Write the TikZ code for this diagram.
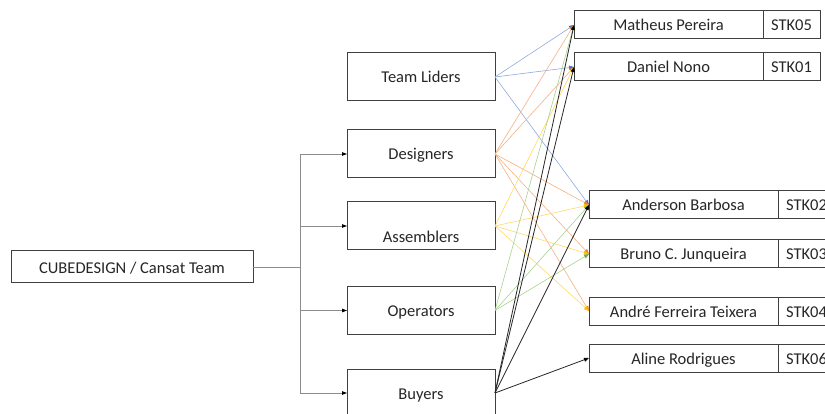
\documentclass[tikz,border=0pt]{standalone}
\usepackage{fontspec}
\setmainfont{Carlito}
\usetikzlibrary{arrows.meta}

\definecolor{boxline}{HTML}{404040}
\definecolor{treeline}{HTML}{8C8C8C}
\definecolor{lblue}{HTML}{8FAADC}
\definecolor{dblue}{HTML}{4472C4}
\definecolor{lorange}{HTML}{F4B183}
\definecolor{dorange}{HTML}{ED7D31}
\definecolor{lyellow}{HTML}{FFD966}
\definecolor{dyellow}{HTML}{FFC000}
\definecolor{lgreen}{HTML}{A9D18E}
\definecolor{dgreen}{HTML}{70AD47}

\tikzset{
  txt/.style={font=\fontsize{16.5}{19}\selectfont, text=black!85, text height=13pt, text depth=1pt},
  box/.style={txt, draw=boxline, line width=1pt, inner sep=0pt, outer sep=0pt},
  grp/.style={box, minimum width=148pt, minimum height=48pt},
  person/.style={box, minimum width=189pt, minimum height=28pt},
  stk/.style={box, minimum width=57pt, minimum height=28pt, anchor=west},
  tree/.style={draw=treeline, line width=0.8pt},
  treetip/.style={tree, -{Triangle[length=5pt, width=3.5pt, color=black]}},
  tlink/.style={draw=lblue, line width=0.6pt, -{Triangle[length=5pt, width=4pt, color=dblue]}},
  dlink/.style={draw=lorange, line width=0.6pt, -{Triangle[length=5pt, width=4pt, color=dorange]}},
  alink/.style={draw=lyellow, line width=0.6pt, -{Triangle[length=5pt, width=4pt, color=dyellow]}},
  olink/.style={draw=lgreen, line width=0.6pt, -{Triangle[length=5pt, width=4pt, color=dgreen]}},
  blink/.style={draw=black!85, line width=0.8pt, -{Triangle[length=5pt, width=4pt, color=black]}}
}

\begin{document}
\begin{tikzpicture}[x=1pt, y=-1pt]
		\useasboundingbox (0,0) rectangle (825,414);
		% team and groups
		\node[box, minimum width=242pt, minimum height=32pt] (cube) at (132,267) {CUBEDESIGN / Cansat Team};
		\node[grp] (lid) at (421,77) {Team Liders};
		\node[grp] (des) at (421,154) {Designers};
		\node[grp, label={[txt, yshift=-11pt]center:Assemblers}] (asm) at (421,226) {};
		\node[grp] (ope) at (421,310.5) {Operators};
		\node[grp] (buy) at (421,393) {Buyers};
		% members
		\node[person] (mat) at (668.5,25) {Matheus Pereira};
		\node[stk] (mat id) at (mat.east) {STK05};
		\node[person] (dan) at (668.5,67) {Daniel Nono};
		\node[stk] (dan id) at (dan.east) {STK01};
		\node[person] (and) at (683.5,205) {Anderson Barbosa};
		\node[stk] (and id) at (and.east) {STK02};
		\node[person] (bru) at (683.5,254) {Bruno C. Junqueira};
		\node[stk] (bru id) at (bru.east) {STK03};
		\node[person] (ant) at (683.5,311) {André Ferreira Teixera};
		\node[stk] (ant id) at (ant.east) {STK04};
		\node[person] (ali) at (683.5,358) {Aline Rodrigues};
		\node[stk] (ali id) at (ali.east) {STK06};
		% tree
		\coordinate (split) at (300,267);
		\draw[tree] (cube.east) -- (split);
		\draw[treetip] (split) |- (des.west);
		\draw[treetip] (split) |- (asm.west);
		\draw[treetip] (split) |- (ope.west);
		\draw[treetip] (split) |- (buy.west);
		% links
		\foreach \m in {mat,dan,and} \draw[tlink] (lid.east) -- (\m.west);
		\foreach \m in {mat,dan,and,bru,ant} \draw[dlink] (des.east) -- (\m.west);
		\foreach \m in {dan,and,bru,ant} \draw[alink] (asm.east) -- (\m.west);
		\foreach \m in {mat,and,bru} \draw[olink] (ope.east) -- (\m.west);
		\foreach \m in {mat,dan,and,ali} \draw[blink] (buy.east) -- (\m.west);
	\end{tikzpicture}
\end{document}
